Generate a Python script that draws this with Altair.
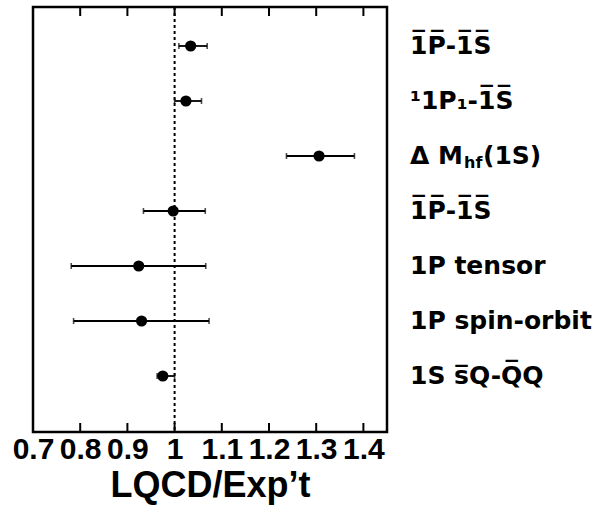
import altair as alt
import pandas as pd

# ---- data ----
labels = ["1\u0305P\u0305-1\u0305S\u0305", "\u00b91P\u2081-1\u0305S\u0305", "\u0394 M",
          "1\u0305P\u0305-1\u0305S\u0305", "1P tensor", "1P spin-orbit", "1S s\u0305Q-Q\u0305Q"]
centers = [1.034, 1.024, 1.306, 0.997, 0.924, 0.930, 0.975]
lows = [1.009, 1.000, 1.237, 0.934, 0.781, 0.786, 0.963]
highs = [1.069, 1.057, 1.381, 1.065, 1.066, 1.073, 1.000]
tick_values = [0.7, 0.8, 0.9, 1.0, 1.1, 1.2, 1.3, 1.4]
x_domain = [0.7, 1.45]
reference_value = 1.0
# extra pieces of the third label (subscript and tail)
piece_text = ["hf", "(1S)"]
piece_row = [2, 2]

W, H = 354, 425
LBL = 25

df = pd.DataFrame({
    "row": list(range(len(labels))),
    "label": labels,
    "c": centers,
    "lo": lows,
    "hi": highs,
})
ticks_df = pd.DataFrame({"t": tick_values})

xs = alt.Scale(domain=x_domain, nice=False, zero=False)
ys = alt.Scale(domain=[-0.709, 7.018], nice=False, zero=False, reverse=True)

base = alt.Chart(df)
X_AXIS = alt.Axis(values=tick_values, labelExpr="datum.value == 1 ? '1' : format(datum.value, '.1f')",
                  labelFont="Liberation Sans", labelFontWeight="bold", labelFontSize=30,
                  labelColor="black", tickSize=0, domain=False, grid=False, labelPadding=2,
                  labelFlush=False, labelOverlap=False,
                  title="LQCD/Exp\u2019t", titleFont="Liberation Sans", titleFontWeight="bold",
                  titleFontSize=36, titleColor="black", titlePadding=4)

bars = base.mark_rule(color="black", strokeWidth=1.8).encode(
    x=alt.X("lo:Q", scale=xs, axis=X_AXIS),
    x2="hi:Q",
    y=alt.Y("row:Q", scale=ys, axis=None),
)
cap_lo = base.mark_tick(color="black", orient="vertical", size=6, thickness=1.6).encode(
    x=alt.X("lo:Q", scale=xs), y=alt.Y("row:Q", scale=ys))
cap_hi = base.mark_tick(color="black", orient="vertical", size=6, thickness=1.6).encode(
    x=alt.X("hi:Q", scale=xs), y=alt.Y("row:Q", scale=ys))
pts = base.mark_circle(color="black", opacity=1, size=125).encode(
    x=alt.X("c:Q", scale=xs), y=alt.Y("row:Q", scale=ys))

refline = alt.Chart(pd.DataFrame({"v": [reference_value]})).mark_rule(
    color="black", strokeWidth=2, strokeDash=[3, 3]).encode(x=alt.X("v:Q", scale=xs))

top_ticks = alt.Chart(ticks_df).mark_rule(color="black", strokeWidth=2).encode(
    x=alt.X("t:Q", scale=xs), y=alt.value(0), y2=alt.value(9))
bot_ticks = alt.Chart(ticks_df).mark_rule(color="black", strokeWidth=2).encode(
    x=alt.X("t:Q", scale=xs), y=alt.value(H - 9), y2=alt.value(H))

text = base.mark_text(align="left", baseline="middle", font="DejaVu Sans", fontWeight="bold",
                      fontSize=LBL, color="black").encode(
    x=alt.value(W + 23), y=alt.Y("row:Q", scale=ys), text="label:N")

pieces = pd.DataFrame({"row": piece_row, "txt": piece_text, "k": [0, 1]})
sub = alt.Chart(pieces).transform_filter("datum.k == 0").mark_text(
    align="left", baseline="middle", font="DejaVu Sans", fontWeight="bold", fontSize=16,
    color="black", dx=54, dy=7).encode(
    x=alt.value(W + 23), y=alt.Y("row:Q", scale=ys), text="txt:N")
tail = alt.Chart(pieces).transform_filter("datum.k == 1").mark_text(
    align="left", baseline="middle", font="DejaVu Sans", fontWeight="bold", fontSize=LBL,
    color="black", dx=73).encode(
    x=alt.value(W + 23), y=alt.Y("row:Q", scale=ys), text="txt:N")

chart = alt.layer(refline, bars, cap_lo, cap_hi, pts, top_ticks, bot_ticks, text, sub, tail).properties(
    width=W, height=H,
    autosize=alt.AutoSizeParams(type="none"),
    padding={"left": 33, "top": 7, "right": 205, "bottom": 80},
    background="white",
).configure_view(stroke="black", strokeWidth=2.5)

chart.save("out.html", embed_options={"renderer": "svg", "actions": False})
